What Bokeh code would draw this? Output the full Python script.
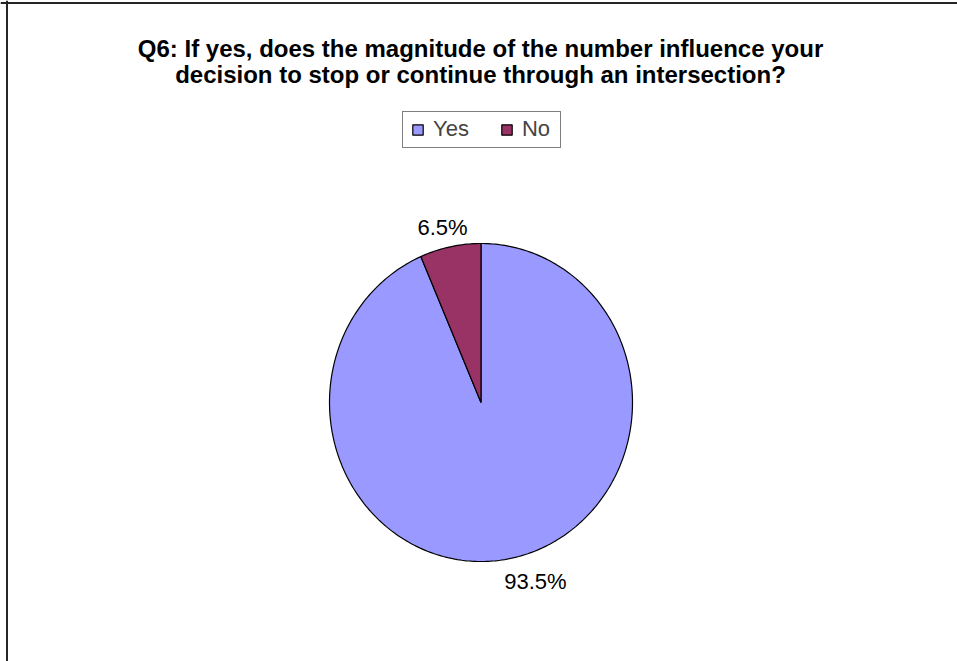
import math
from bokeh.plotting import figure
from bokeh.models import Range1d, Span, Label, Legend, LegendItem, ColumnDataSource
from bokeh.embed import file_html
from bokeh.resources import INLINE

categories = ["Yes", "No"]
shares = [93.5, 6.5]
labels = ["93.5%", "6.5%"]
colors = ["#9999FF", "#993366"]
title_lines = ["Q6: If yes, does the magnitude of the number influence your",
               "decision to stop or continue through an intersection?"]

W, H = 957, 661
p = figure(width=W, height=H, output_backend="svg", toolbar_location=None,
           x_range=Range1d(0, W), y_range=Range1d(H, 0), min_border=0,
           background_fill_color="white", border_fill_color="white")
p.axis.visible = False
p.grid.visible = False
p.outline_line_color = None

# chart frame (left and top edges visible)
p.add_layout(Span(location=6.5, dimension="height", line_color="#262626", line_width=2))
p.add_layout(Span(location=2.5, dimension="width", line_color="#262626", line_width=2))

cx, cy, rx, ry = 480.5, 402, 151.5, 159
total = sum(shares)
xs, ys, mids = [], [], []
start = 0.0
for s in shares:
    a0 = start / total * 2 * math.pi
    a1 = (start + s) / total * 2 * math.pi
    n = max(4, int(400 * s / total))
    px = [cx]
    py = [cy]
    for i in range(n + 1):
        t = a0 + (a1 - a0) * i / n
        px.append(cx + rx * math.sin(t))
        py.append(cy - ry * math.cos(t))
    xs.append(px)
    ys.append(py)
    mids.append((a0 + a1) / 2)
    start += s

src = ColumnDataSource(dict(xs=xs, ys=ys, color=colors, cat=categories))
r = p.patches("xs", "ys", source=src, fill_color="color", line_color="black", line_width=1.2)

lab_x = [cx + 1.12 * rx * math.sin(m) for m in mids]
lab_y = [cy - 1.12 * ry * math.cos(m) for m in mids]
x_nudge = [20, -4]
y_nudge = [5, -1]
for lx, ly, t, xo, yo in zip(lab_x, lab_y, labels, x_nudge, y_nudge):
    p.add_layout(Label(x=lx + xo, y=ly + yo, text=t, text_align="center", text_baseline="middle",
                       text_font="Liberation Sans", text_font_size="22px", text_color="black"))

for i, line in enumerate(title_lines):
    p.add_layout(Label(x=480, y=48 + i * 26, text=line, text_align="center", text_baseline="middle",
                       text_font="Liberation Sans", text_font_size="24px", text_font_style="bold",
                       text_color="black"))

legend = Legend(items=[LegendItem(label=c, renderers=[r], index=i) for i, c in enumerate(categories)],
                orientation="horizontal", location=(402, H - 148),
                glyph_width=13, glyph_height=13, label_standoff=9, spacing=31,
                padding=dict(left=8, right=10, top=4, bottom=5), margin=0, label_height=19,
                label_text_font="Liberation Sans", label_text_font_size="22px",
                border_line_color="black", border_line_width=1,
                background_fill_color="white", background_fill_alpha=1)
p.add_layout(legend)

open("out.html", "w").write(file_html(p, INLINE))
